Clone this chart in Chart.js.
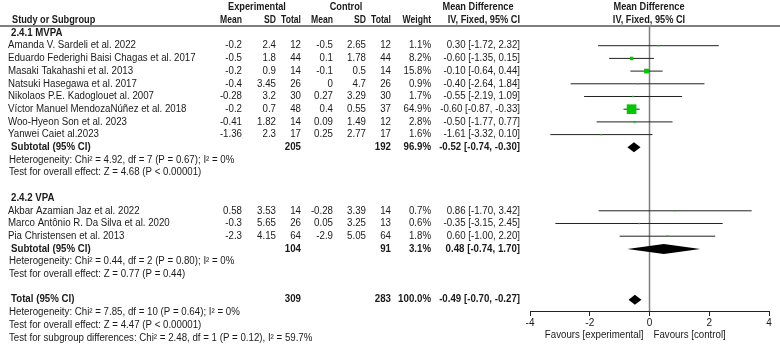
<!DOCTYPE html>
<html><head><meta charset="utf-8">
<script src="https://cdn.jsdelivr.net/npm/chart.js@4.4.1/dist/chart.umd.min.js"></script>
<style>html,body{margin:0;padding:0;background:#fff;}#wrap{width:780px;height:348px;}</style>
</head><body><div id="wrap"><canvas id="c" width="780" height="348" style="width:780px;height:348px"></canvas></div>
<script>
// ---- data ----
const studyNames = ["Amanda V. Sardeli et al. 2022","Eduardo Federighi Baisi Chagas et al. 2017","Masaki Takahashi et al. 2013","Natsuki Hasegawa et al. 2017","Nikolaos P.E. Kadoglouet al. 2007","Víctor Manuel MendozaNúñez et al. 2018","Woo-Hyeon Son et al. 2023","Yanwei Caiet al.2023","Akbar Azamian Jaz et al. 2022","Marco Antônio R. Da Silva et al. 2020","Pia Christensen et al. 2013"];
const studyRows = [1,2,3,4,5,6,7,8,14,15,16];
const expMean = [-0.2,-0.5,-0.2,-0.4,-0.28,-0.2,-0.41,-1.36,0.58,-0.3,-2.3];
const expSD   = [2.4,1.8,0.9,3.45,3.2,0.7,1.82,2.3,3.53,5.65,4.15];
const expN    = [12,44,14,26,30,48,14,17,14,26,64];
const ctlMean = [-0.5,0.1,-0.1,0,0.27,0.4,0.09,0.25,-0.28,0.05,-2.9];
const ctlSD   = [2.65,1.78,0.5,4.7,3.29,0.55,1.49,2.77,3.39,3.25,5.05];
const ctlN    = [12,44,14,26,30,37,12,17,14,13,64];
const weight  = [1.1,8.2,15.8,0.9,1.7,64.9,2.8,1.6,0.7,0.6,1.8];
const md      = [0.30,-0.60,-0.10,-0.40,-0.55,-0.60,-0.50,-1.61,0.86,-0.35,0.60];
const ciLo    = [-1.72,-1.35,-0.64,-2.64,-2.19,-0.87,-1.77,-3.32,-1.70,-3.15,-1.00];
const ciHi    = [2.32,0.15,0.44,1.84,1.09,-0.33,0.77,0.10,3.42,2.45,2.20];

const sumLabels = ["Subtotal (95% CI)","Subtotal (95% CI)","Total (95% CI)"];
const sumRows   = [9,17,21];
const sumExpN   = [205,104,309];
const sumCtlN   = [192,91,283];
const sumWeight = [96.9,3.1,100.0];
const sumMd     = [-0.52,0.48,-0.49];
const sumLo     = [-0.74,-0.74,-0.70];
const sumHi     = [-0.30,1.70,-0.27];

const groupLabels = ["2.4.1 MVPA","2.4.2 VPA"];
const groupRows = [0,13];
const noteTexts = ["Heterogeneity: Chi\u00b2 = 4.92, df = 7 (P = 0.67); I\u00b2 = 0%","Test for overall effect: Z = 4.68 (P < 0.00001)","Heterogeneity: Chi\u00b2 = 0.44, df = 2 (P = 0.80); I\u00b2 = 0%","Test for overall effect: Z = 0.77 (P = 0.44)","Heterogeneity: Chi\u00b2 = 7.85, df = 10 (P = 0.64); I\u00b2 = 0%","Test for overall effect: Z = 4.47 (P < 0.00001)","Test for subgroup differences: Chi\u00b2 = 2.48, df = 1 (P = 0.12), I\u00b2 = 59.7%"];
const noteRows = [10,11,18,19,22,23,24];
const xTicks = [-4,-2,0,2,4];

// ---- styles ----
const FONT = '"Liberation Sans", Arial, sans-serif';
const FS = 10, SX = 0.97, TXT = '#1a1a1a';
const ROW_MIN = -0.472, ROW_MAX = 21.89;

function txt(ctx, s, x, y, align, bold, sx){
  ctx.save();
  ctx.translate(x, y);
  ctx.scale(sx || SX, 1);
  ctx.font = (bold ? 'bold ' : '') + FS + 'px ' + FONT;
  ctx.fillStyle = TXT;
  ctx.textAlign = align;
  ctx.textBaseline = 'middle';
  ctx.fillText(s, 0, 0);
  ctx.restore();
}
const fmt2 = v => v.toFixed(2);
const mdText = (m,l,h) => fmt2(m) + ' [' + fmt2(l) + ', ' + fmt2(h) + ']';

const COL = {name:8, eMean:242, eSD:276, eN:301, cMean:333, cSD:366, cN:391, w:431, md:520};

const tablePlugin = {
  id:'table',
  afterDraw(chart){
    const ctx = chart.ctx, ys = chart.scales.y, xs = chart.scales.x;
    const Y = r => ys.getPixelForValue(r);
    const HS = 0.86;
    txt(ctx,'Experimental',257,7,'center',true,0.92);
    txt(ctx,'Control',346,7,'center',true,0.92);
    txt(ctx,'Mean Difference',478,7,'center',true,0.92);
    txt(ctx,'Mean Difference',649,7,'center',true,0.92);
    const h2 = 20.5;
    txt(ctx,'Study or Subgroup',12,h2,'left',true,0.92);
    txt(ctx,'Mean',COL.eMean,h2,'right',true,HS);
    txt(ctx,'SD',COL.eSD,h2,'right',true,HS);
    txt(ctx,'Total',COL.eN,h2,'right',true,HS);
    txt(ctx,'Mean',COL.cMean,h2,'right',true,HS);
    txt(ctx,'SD',COL.cSD,h2,'right',true,HS);
    txt(ctx,'Total',COL.cN,h2,'right',true,HS);
    txt(ctx,'Weight',COL.w,h2,'right',true,HS);
    txt(ctx,'IV, Fixed, 95% CI',COL.md,h2,'right',true,0.92);
    txt(ctx,'IV, Fixed, 95% CI',649,h2,'center',true,0.92);
    ctx.save();
    ctx.strokeStyle = '#555'; ctx.lineWidth = 1.5;
    ctx.beginPath(); ctx.moveTo(0,26); ctx.lineTo(780,26); ctx.stroke();
    ctx.restore();
    groupLabels.forEach((g,i)=>txt(ctx,g,11,Y(groupRows[i]),'left',true));
    studyNames.forEach((s,i)=>{
      const y = Y(studyRows[i]);
      txt(ctx,s,COL.name,y,'left',false);
      txt(ctx,String(expMean[i]),COL.eMean,y,'right');
      txt(ctx,String(expSD[i]),COL.eSD,y,'right');
      txt(ctx,String(expN[i]),COL.eN,y,'right');
      txt(ctx,String(ctlMean[i]),COL.cMean,y,'right');
      txt(ctx,String(ctlSD[i]),COL.cSD,y,'right');
      txt(ctx,String(ctlN[i]),COL.cN,y,'right');
      txt(ctx,weight[i].toFixed(1)+'%',COL.w,y,'right');
      txt(ctx,mdText(md[i],ciLo[i],ciHi[i]),COL.md,y,'right');
    });
    sumLabels.forEach((s,i)=>{
      const y = Y(sumRows[i]);
      txt(ctx,s,11,y,'left',true);
      txt(ctx,String(sumExpN[i]),COL.eN,y,'right',true);
      txt(ctx,String(sumCtlN[i]),COL.cN,y,'right',true);
      txt(ctx,sumWeight[i].toFixed(1)+'%',COL.w,y,'right',true);
      txt(ctx,mdText(sumMd[i],sumLo[i],sumHi[i]),COL.md,y,'right',true);
    });
    noteTexts.forEach((s,i)=>txt(ctx,s,9,Y(noteRows[i]),'left',false));
    const x0 = xs.getPixelForValue(0);
    txt(ctx,'Favours [experimental]',x0-6,335,'right',false);
    txt(ctx,'Favours [control]',x0+4,335,'left',false);
  }
};

const overlayPlugin = {
  id:'overlay',
  beforeDatasetsDraw(chart){
    const ctx = chart.ctx, xs = chart.scales.x, ca = chart.chartArea;
    const x0 = xs.getPixelForValue(0);
    ctx.save();
    ctx.strokeStyle = '#808080'; ctx.lineWidth = 1.5;
    ctx.beginPath(); ctx.moveTo(x0, ca.top); ctx.lineTo(x0, ca.bottom); ctx.stroke();
    ctx.restore();
  },
  afterDatasetsDraw(chart){
    const ctx = chart.ctx, xs = chart.scales.x, ys = chart.scales.y;
    ctx.save();
    ctx.fillStyle = '#000';
    sumRows.forEach((r,i)=>{
      const y = ys.getPixelForValue(r);
      const l = xs.getPixelForValue(sumLo[i]), m = xs.getPixelForValue(sumMd[i]), h = xs.getPixelForValue(sumHi[i]);
      ctx.beginPath();
      ctx.moveTo(l,y); ctx.lineTo(m,y-5); ctx.lineTo(h,y); ctx.lineTo(m,y+5); ctx.closePath();
      ctx.fill();
    });
    ctx.restore();
  }
};

const datasets = [];
studyRows.forEach((r,i)=>{
  datasets.push({type:'scatter', showLine:true, data:[{x:ciLo[i],y:r},{x:ciHi[i],y:r}], borderColor:'#222', borderWidth:1, pointRadius:0, order:2});
});
datasets.push({type:'scatter', data: studyRows.map((r,i)=>({x:md[i],y:r})), pointStyle:'rect',
  pointRadius: weight.map(w=>Math.max(1.3, 1.2*Math.sqrt(w))/Math.SQRT2),
  backgroundColor:'#00c800', borderWidth:0, order:1});

new Chart(document.getElementById('c'), {
  type:'scatter',
  data:{datasets},
  options:{
    responsive:false, animation:false, devicePixelRatio:1,
    layout:{padding:{left:530, right:11, top:27, bottom:17}},
    plugins:{legend:{display:false}, tooltip:{enabled:false}},
    scales:{
      x:{type:'linear', min:-4, max:4, position:'bottom',
        afterBuildTicks(s){ s.ticks = xTicks.map(v=>({value:v})); },
        afterFit(s){ s.height = 20; },
        grid:{drawOnChartArea:false, drawTicks:true, tickLength:5, color:'#222', lineWidth:1},
        border:{display:true, color:'#222', width:1},
        ticks:{font:{family:FONT,size:10}, color:TXT, padding:1, maxRotation:0, callback:v=>String(v)}},
      y:{type:'linear', reverse:true, min:ROW_MIN, max:ROW_MAX, display:false}
    }
  },
  plugins:[tablePlugin, overlayPlugin]
});
</script></body></html>
